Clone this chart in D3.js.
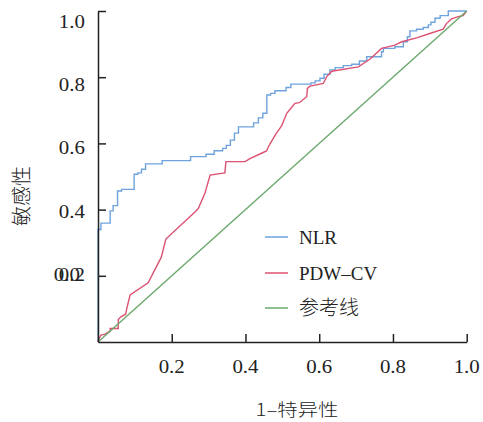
<!DOCTYPE html>
<html>
<head>
<meta charset="utf-8">
<script src="https://cdn.jsdelivr.net/npm/d3@7"></script>
<style>
  body { margin: 0; background: #fff; }
  svg { display: block; }
</style>
</head>
<body>
<div id="canvas"></div>
<script>
// ROC curve values
const nlrFpr = [0, 0, 0.008, 0.033, 0.041, 0.053, 0.064, 0.098, 0.108, 0.118, 0.129, 0.174, 0.251, 0.293, 0.315, 0.338, 0.348, 0.359, 0.370, 0.381, 0.422, 0.435, 0.447, 0.458, 0.468, 0.480, 0.510, 0.523, 0.578, 0.589, 0.602, 0.613, 0.629, 0.643, 0.665, 0.688, 0.709, 0.729, 0.769, 0.774, 0.805, 0.828, 0.839, 0.846, 0.864, 0.882, 0.896, 0.903, 0.914, 0.928, 0.950, 1.0];
const nlrTpr = [0, 0.340, 0.359, 0.396, 0.412, 0.456, 0.461, 0.507, 0.511, 0.522, 0.538, 0.548, 0.560, 0.567, 0.578, 0.585, 0.594, 0.610, 0.631, 0.650, 0.662, 0.677, 0.691, 0.746, 0.751, 0.759, 0.769, 0.779, 0.783, 0.789, 0.797, 0.809, 0.822, 0.829, 0.835, 0.839, 0.849, 0.862, 0.877, 0.887, 0.892, 0.907, 0.922, 0.940, 0.945, 0.950, 0.958, 0.966, 0.978, 0.986, 1.0, 1.0];

const pdwFpr = [0, 0.001, 0.008, 0.019, 0.033, 0.033, 0.055, 0.055, 0.062, 0.075, 0.078, 0.087, 0.136, 0.172, 0.184, 0.263, 0.272, 0.290, 0.304, 0.344, 0.347, 0.399, 0.412, 0.445, 0.457, 0.466, 0.484, 0.498, 0.512, 0.521, 0.534, 0.546, 0.566, 0.568, 0.575, 0.611, 0.620, 0.634, 0.706, 0.738, 0.769, 0.805, 0.824, 0.864, 0.900, 0.936, 0.945, 0.959, 0.977, 0.990, 1.0];
const pdwTpr = [0, 0.006, 0.021, 0.024, 0.033, 0.041, 0.041, 0.068, 0.076, 0.084, 0.101, 0.142, 0.179, 0.257, 0.311, 0.393, 0.403, 0.449, 0.504, 0.511, 0.545, 0.545, 0.554, 0.571, 0.577, 0.598, 0.631, 0.653, 0.691, 0.703, 0.721, 0.723, 0.741, 0.766, 0.773, 0.781, 0.801, 0.818, 0.831, 0.855, 0.887, 0.897, 0.907, 0.919, 0.932, 0.945, 0.962, 0.976, 0.983, 0.986, 1.0];

const refFpr = [0, 1];
const refTpr = [0, 1];

const tickValues = [0.2, 0.4, 0.6, 0.8, 1.0];
const tickLabels = ["0.2", "0.4", "0.6", "0.8", "1.0"];
const seriesNames = ["NLR", "PDW\u2013CV", "参考线"];
const seriesColors = ["#6fa3dd", "#dc5272", "#6aa86c"];

const w = 483, h = 422;
const serif = "'Liberation Serif', 'DejaVu Serif', serif";
const cjk = "'Noto Sans CJK SC', sans-serif";

const svg = d3.select("#canvas").append("svg")
  .attr("width", w).attr("height", h);

const x = d3.scaleLinear().domain([0, 1]).range([98, 466.7]);
const y = d3.scaleLinear().domain([0, 1]).range([342, 11]);
// tick labels sit on a slightly tighter spacing than the ticks themselves
const yLab = d3.scaleLinear().domain([0, 1]).range([337, 21.7]);

// curves
const series = [
  { fpr: nlrFpr, tpr: nlrTpr, curve: d3.curveStepAfter },
  { fpr: pdwFpr, tpr: pdwTpr, curve: d3.curveLinear },
  { fpr: refFpr, tpr: refTpr, curve: d3.curveLinear }
];

series.forEach(function(s, k) {
  const pts = s.fpr.map((v, i) => [v, s.tpr[i]]);
  const line = d3.line().x(d => x(d[0])).y(d => y(d[1])).curve(s.curve);
  svg.append("path")
    .datum(pts)
    .attr("d", line)
    .attr("fill", "none")
    .attr("stroke", seriesColors[k])
    .attr("stroke-width", 1.4);
});

// axes, drawn over the curves
const xAxis = d3.axisBottom(x).tickValues(tickValues).tickSizeInner(-8).tickSizeOuter(0).tickFormat("");
const yAxis = d3.axisLeft(y).tickValues(tickValues).tickSizeInner(-8).tickSizeOuter(0).tickFormat("");

svg.append("g").attr("transform", "translate(0," + y(0) + ")").call(xAxis);
svg.append("g").attr("transform", "translate(" + x(0) + ",0)").call(yAxis);
svg.selectAll(".domain, .tick line").attr("stroke", "#222").attr("stroke-width", 1.5);

// tick labels
const sx = 1.1;
svg.selectAll(".xlab").data(tickValues).enter().append("text")
  .attr("transform", d => "translate(" + x(d) + ",373) scale(" + sx + ",1)")
  .attr("text-anchor", "middle")
  .style("font-family", serif).style("font-size", "19px").attr("fill", "#222")
  .text((d, i) => tickLabels[i]);

svg.selectAll(".ylab").data(tickValues).enter().append("text")
  .attr("transform", d => "translate(85," + yLab(d) + ") scale(" + sx + ",1)")
  .attr("text-anchor", "end").attr("dy", "0.35em")
  .style("font-family", serif).style("font-size", "19px").attr("fill", "#222")
  .text((d, i) => tickLabels[i]);

// the overlapping "0.0" label
svg.append("text")
  .attr("transform", "translate(80," + yLab(0.2) + ") scale(" + sx + ",1)")
  .attr("text-anchor", "end").attr("dy", "0.35em")
  .style("font-family", serif).style("font-size", "19px").attr("fill", "#222")
  .text("0.0");

// axis titles
svg.append("text")
  .attr("transform", "translate(297,416) scale(1.2,1)")
  .attr("text-anchor", "middle")
  .style("font-family", cjk).style("font-size", "17px").style("font-weight", 300).attr("fill", "#222")
  .text("1\u2013特异性");

svg.append("text")
  .attr("transform", "translate(22,196) rotate(-90)")
  .attr("text-anchor", "middle").attr("dy", "0.35em")
  .style("font-family", cjk).style("font-size", "20px").style("font-weight", 300).attr("fill", "#222")
  .text("敏感性");

// legend
const legendY = [237, 273, 308];
const legend = svg.append("g");
seriesNames.forEach(function(name, i) {
  legend.append("line")
    .attr("x1", 265).attr("x2", 288)
    .attr("y1", legendY[i]).attr("y2", legendY[i])
    .attr("stroke", seriesColors[i]).attr("stroke-width", 1.5);
  const t = legend.append("text")
    .attr("x", 299).attr("y", legendY[i]).attr("dy", "0.35em")
    .attr("fill", "#222")
    .text(name);
  if (i === 2) {
    t.style("font-family", cjk).style("font-size", "20px").style("font-weight", 300);
  } else {
    t.style("font-family", serif).style("font-size", "19px");
  }
});
</script>
</body>
</html>
